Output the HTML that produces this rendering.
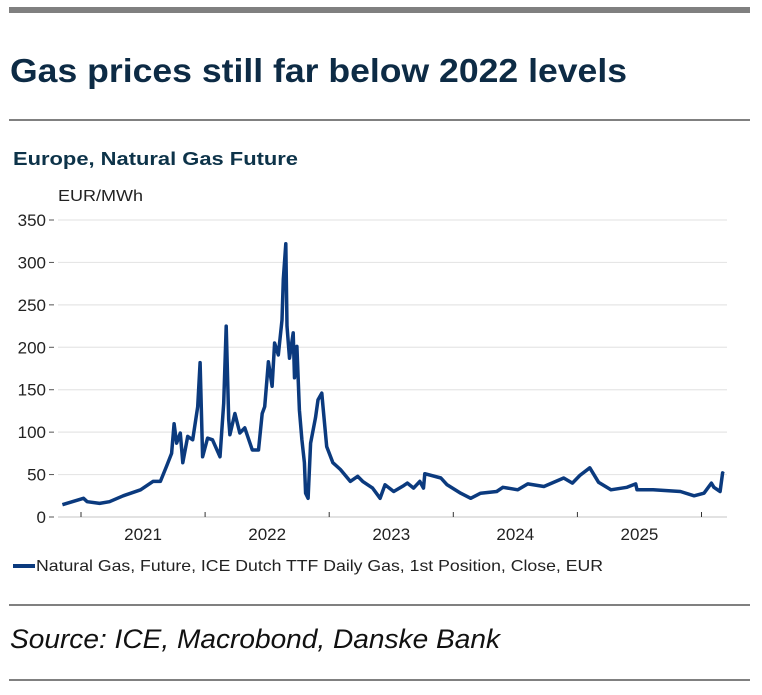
<!DOCTYPE html>
<html><head><meta charset="utf-8"><style>
html,body{margin:0;padding:0;background:#fff;}
svg{display:block;font-family:"Liberation Sans",sans-serif;}
</style></head><body>
<svg id="chart" width="762" height="695" viewBox="0 0 762 695">
<rect x="9" y="7" width="741" height="6" fill="#808080"/>
<text x="10" y="82" font-size="33" font-weight="bold" fill="#0d2b45" textLength="617" lengthAdjust="spacingAndGlyphs">Gas prices still far below 2022 levels</text>
<rect x="9" y="119" width="741" height="2" fill="#808080"/>
<text x="13" y="165" font-size="18.5" font-weight="bold" fill="#0d3349" textLength="285" lengthAdjust="spacingAndGlyphs">Europe, Natural Gas Future</text>
<text x="58" y="201" font-size="16" fill="#222" textLength="85" lengthAdjust="spacingAndGlyphs">EUR/MWh</text>
<g id="grid"></g>
<g id="yticks"></g>
<g id="xticks"></g>
<path id="series" fill="none" stroke="#0b3a7e" stroke-width="3.5" stroke-linejoin="round"/>
<g>
<rect x="13" y="564" width="22" height="4" fill="#0b3a7e"/>
<text x="36" y="571" font-size="16" fill="#222" textLength="567" lengthAdjust="spacingAndGlyphs">Natural Gas, Future, ICE Dutch TTF Daily Gas, 1st Position, Close, EUR</text>
</g>
<rect x="9" y="604" width="741" height="2" fill="#808080"/>
<text x="10" y="648" font-size="27" font-style="italic" fill="#111" textLength="490" lengthAdjust="spacingAndGlyphs">Source: ICE, Macrobond, Danske Bank</text>
<rect x="9" y="679" width="741" height="2" fill="#808080"/>
</svg>
<script>
const yTicks=[0,50,100,150,200,250,300,350];
const yearTicks=[2021,2022,2023,2024,2025,2026];
const yearLabels=["2021","2022","2023","2024","2025"];
const dates=[2020.85,2021.02,2021.05,2021.15,2021.23,2021.34,2021.48,2021.58,2021.64,2021.69,2021.73,2021.75,2021.77,2021.80,2021.82,2021.86,2021.90,2021.94,2021.96,2021.98,2022.02,2022.06,2022.12,2022.15,2022.17,2022.19,2022.20,2022.24,2022.28,2022.32,2022.38,2022.43,2022.46,2022.48,2022.51,2022.54,2022.56,2022.59,2022.62,2022.63,2022.65,2022.66,2022.68,2022.71,2022.72,2022.74,2022.76,2022.78,2022.80,2022.81,2022.83,2022.85,2022.89,2022.91,2022.94,2022.95,2022.98,2023.03,2023.09,2023.17,2023.23,2023.27,2023.35,2023.41,2023.45,2023.52,2023.60,2023.63,2023.68,2023.73,2023.76,2023.77,2023.90,2023.95,2024.06,2024.14,2024.22,2024.35,2024.40,2024.52,2024.60,2024.73,2024.89,2024.96,2025.02,2025.10,2025.17,2025.27,2025.40,2025.47,2025.48,2025.61,2025.83,2025.94,2026.02,2026.08,2026.10,2026.15,2026.17,2026.18];
const prices=[14.5,22,18,16,18,25,32,42,42,60,75,110,87,99,64,95,91,130,182,71,93,91,71,134,225,115,97,122,99,105,79,79,122,130,183,154,205,191,232,280,322,225,187,217,164,201,126,91,64,28,22,87,117,138,146,130,83,64,56,42,48,42,34,22,38,30,37,40,34,42,34,51,46,38,28,22,28,30,35,32,39,36,46,40,49,58,41,32,35,39,32,32,30,25,28,40,35,30,52,51];
const X0=58,X1=727,Y0=517,PY=297/350;
const xs=y=>81+(y-2021)*124.1;
const ys=v=>Y0-v*PY;
const NS="http://www.w3.org/2000/svg";
const grid=document.getElementById('grid'),yt=document.getElementById('yticks'),xt=document.getElementById('xticks');
yTicks.forEach(v=>{
 const l=document.createElementNS(NS,'line');
 l.setAttribute('x1',X0);l.setAttribute('x2',X1);l.setAttribute('y1',ys(v));l.setAttribute('y2',ys(v));
 l.setAttribute('stroke',v===0?'#d0d0d0':'#e6e6e6');l.setAttribute('stroke-width',1.2);
 
 
 grid.appendChild(l);
 const t=document.createElementNS(NS,'text');
 t.setAttribute('x',46);t.setAttribute('y',ys(v)+6);t.setAttribute('text-anchor','end');
 t.setAttribute('font-size','17');t.setAttribute('fill','#222');t.textContent=v;
 
 
 yt.appendChild(t);
 const d=document.createElementNS(NS,'line');
 d.setAttribute('x1',49);d.setAttribute('x2',54);d.setAttribute('y1',ys(v));d.setAttribute('y2',ys(v));d.setAttribute('stroke','#555');
 
 
 yt.appendChild(d);
});
yearTicks.forEach(y=>{
 const l=document.createElementNS(NS,'line');
 l.setAttribute('x1',xs(y));l.setAttribute('x2',xs(y));l.setAttribute('y1',Y0-5);l.setAttribute('y2',Y0);l.setAttribute('stroke','#333');
 
 
 xt.appendChild(l);
});
yearLabels.forEach((s,i)=>{
 const t=document.createElementNS(NS,'text');
 t.setAttribute('x',xs(+s+0.5));t.setAttribute('y',540);t.setAttribute('text-anchor','middle');
 t.setAttribute('font-size','17');t.setAttribute('fill','#222');t.textContent=s;
 
 
 xt.appendChild(t);
});
document.getElementById('series').setAttribute('d',dates.map((d,i)=>(i?'L':'M')+xs(d).toFixed(1)+' '+ys(prices[i]).toFixed(1)).join(' '));
</script>
</body></html>
